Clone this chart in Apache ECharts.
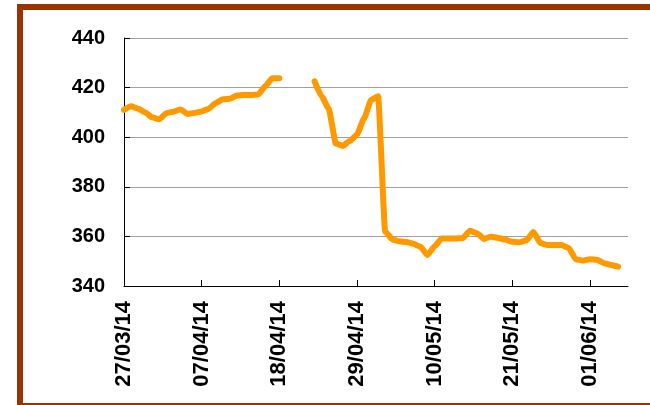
<!DOCTYPE html>
<html>
<head>
<meta charset="utf-8">
<script src="https://cdn.jsdelivr.net/npm/echarts@6/dist/echarts.min.js"></script>
<style>
html,body{margin:0;padding:0;background:#ffffff;}
#chart{width:650px;height:405px;}
</style>
</head>
<body>
<div id="chart"></div>
<script>
// Dates (dd/mm/yy) and prices
var startDate = '27/03/14';
var dates = [
'27/03/14','28/03/14','29/03/14','30/03/14','31/03/14','01/04/14','02/04/14','03/04/14','04/04/14','05/04/14',
'06/04/14','07/04/14','08/04/14','09/04/14','10/04/14','11/04/14','12/04/14','13/04/14','14/04/14','15/04/14',
'16/04/14','17/04/14','18/04/14','19/04/14','20/04/14','21/04/14','22/04/14','23/04/14','24/04/14','25/04/14',
'26/04/14','27/04/14','28/04/14','29/04/14','30/04/14','01/05/14','02/05/14','03/05/14','04/05/14','05/05/14',
'06/05/14','07/05/14','08/05/14','09/05/14','10/05/14','11/05/14','12/05/14','13/05/14','14/05/14','15/05/14',
'16/05/14','17/05/14','18/05/14','19/05/14','20/05/14','21/05/14','22/05/14','23/05/14','24/05/14','25/05/14',
'26/05/14','27/05/14','28/05/14','29/05/14','30/05/14','31/05/14','01/06/14','02/06/14','03/06/14','04/06/14',
'05/06/14'
];
var values = [
411,412.5,411.5,410,408,407.2,409.7,410.3,411.2,409.4,
409.8,410.4,411.5,413.8,415.3,415.5,416.8,417,417,417.2,
420.5,423.8,423.8,null,null,null,null,422.5,416.5,411.5,
397.5,396.5,398.5,401,407.5,415,416.5,362,358.8,358,
357.7,357,355.8,352.5,356,359.2,359.2,359.2,359.3,362.3,
361.3,359,359.9,359.4,358.7,357.8,357.6,358.4,361.8,357.3,
356.5,356.5,356.5,355.3,350.8,350.2,350.8,350.6,349.2,348.5,
347.8
];
var yMin = 340, yMax = 440, yStep = 20;
var xStepDays = 11, xMaxDays = 71.4;

function parseDate(s){
  var p = s.split('/');
  return Date.UTC(2000 + (+p[2]), (+p[1]) - 1, +p[0]);
}
var DAY = 86400000;
var base = parseDate(startDate);
function dayIndex(s){ return Math.round((parseDate(s) - base) / DAY); }
function pad(n){ return (n < 10 ? '0' : '') + n; }
function fmt(d){
  var t = new Date(base + Math.round(d) * DAY);
  return pad(t.getUTCDate()) + '/' + pad(t.getUTCMonth() + 1) + '/' + pad(t.getUTCFullYear() % 100);
}

var seriesData = dates.map(function(s, i){ return [dayIndex(s), values[i]]; });

var chart = echarts.init(document.getElementById('chart'), null, {renderer:'canvas'});
var font = '"Liberation Sans", Arial, sans-serif';
chart.setOption({
  animation:false,
  backgroundColor:'#ffffff',
  graphic:[{
    type:'rect',
    shape:{x:20, y:7, width:700, height:399},
    style:{fill:'none', stroke:'#993300', lineWidth:6},
    silent:true
  }],
  grid:{left:124, right:22, top:38, bottom:119},
  xAxis:{
    type:'value',
    min:0, max:xMaxDays, interval:xStepDays,
    axisLine:{show:true, onZero:false, lineStyle:{color:'#000', width:1}},
    axisTick:{show:true, inside:true, length:6, lineStyle:{color:'#000'}},
    splitLine:{show:false},
    axisLabel:{
      rotate:90, margin:15, showMaxLabel:false,
      fontFamily:font, fontWeight:'bold', fontSize:22, color:'#000',
      formatter:function(v){ return fmt(v); }
    }
  },
  yAxis:{
    type:'value',
    min:yMin, max:yMax, interval:yStep,
    axisLine:{show:true, lineStyle:{color:'#000', width:1}},
    axisTick:{show:true, inside:true, length:6, lineStyle:{color:'#000'}},
    splitLine:{show:true, lineStyle:{color:'#a0a0a0', width:1}},
    axisLabel:{margin:19, fontFamily:font, fontWeight:'bold', fontSize:20, color:'#000'}
  },
  series:[{
    type:'line',
    data:seriesData,
    showSymbol:false,
    connectNulls:false,
    smooth:0.15,
    smoothMonotone:'x',
    lineStyle:{color:'#FF9900', width:6, cap:'round', join:'round'},
    itemStyle:{color:'#FF9900'}
  }]
});
</script>
</body>
</html>
